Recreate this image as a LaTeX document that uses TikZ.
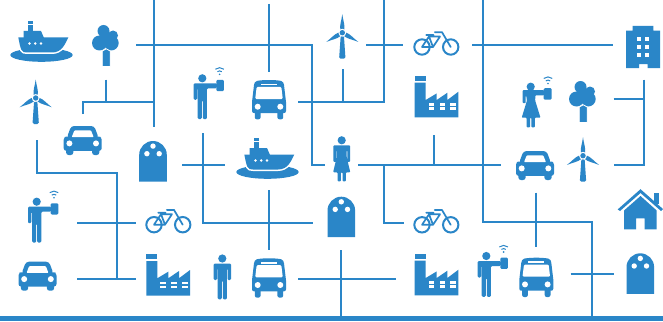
\documentclass[tikz,border=0pt]{standalone}
\definecolor{netblue}{HTML}{2A86C8}
\tikzset{
  wire/.style={draw=netblue,line width=2pt},
  ink/.style={fill=netblue,draw=none},
  cut/.style={fill=white,draw=none},
  ring/.style={draw=netblue,fill=none,line width=2pt},
  wifi/.style={draw=netblue,line width=1pt},
  icship/.pic={
    \fill[netblue] (41.5,55) ellipse [x radius=31.2,y radius=6.8];
    \draw[white,line width=3pt,line join=round] (18.3,37.5)
      .. controls (19.5,43) and (20,47) .. (21.5,50)
      .. controls (22.5,52) and (24,52.5) .. (27,52.5) -- (52,52.5)
      .. controls (62,52.5) and (65,44) .. (68.3,37.5);
    \path[ink] (18.3,37.5)--(68.3,37.5)
      .. controls (65,44) and (62,52.5) .. (52,52.5) -- (27,52.5)
      .. controls (24,52.5) and (22.5,52) .. (21.5,50)
      .. controls (20,47) and (19.5,43) .. (18.3,37.5) -- cycle;
    \path[ink] (23.5,38)--(23.5,31)--(41,31)--(44,38)--cycle;
    \path[ink] (27.5,25.3) rectangle (33,31);
    \path[ink] (27.5,21) rectangle (33,24);
    \foreach \px in {29.5,35.2,41} {\path[cut] (\px,43.5) circle [radius=1.4];}
  },
  ictree/.pic={
    \path[ink] (103.5,31) circle [radius=6];
    \path[ink] (113,35.5) circle [radius=5];
    \path[ink] (99.5,43) circle [radius=7.5];
    \path[ink] (111.2,43) circle [radius=7.5];
    \path[ink] (105,40) circle [radius=7];
    \filldraw[fill=netblue,draw=white,line width=.8pt] (102.3,66.4)--(102.3,51)--(106.2,48.8)--(110.2,51)--(110.2,66.4)--cycle;
  },
  icturbine/.pic={
    \foreach \ang in {0,120,240} {
      \path[ink,rotate=\ang] (0,-18.5) .. controls (-.8,-12) and (-2.8,-8) .. (-2,-3)
        -- (2,-3) .. controls (2.8,-8) and (.8,-12) .. (0,-18.5);
    }
    \path[ink,rounded corners=1.5pt] (-1.6,3)--(1.6,3)--(3.2,26)--(-3.2,26)--cycle;
    \path[cut] (0,0) circle [radius=3.9];
    \path[ink] (0,0) circle [radius=2.7];
  },
  icman/.pic={
    \path[ink] (0,0) circle [radius=4.1];
    \path[ink,rounded corners=1.2pt] (5,5)--(-8.7,5)--(-8.7,21.5)--(-5.3,21.5)--(-5.3,10)--(-4.6,10)
      --(-4.6,40.8)--(-.5,40.8)--(-.5,22)--(.5,22)--(.5,40.8)--(4.6,40.8)--(4.6,10)--(5.2,10)
      --(5.2,21.5)--(8.7,21.5)--(8.7,5)--cycle;
  },
  icmandevice/.pic={
    \path[ink] (0,0) circle [radius=4.1];
    \path[ink,rounded corners=1.2pt] (14.5,5)--(-8.7,5)--(-8.7,21.5)--(-5.3,21.5)--(-5.3,10)--(-4.6,10)
      --(-4.6,40.8)--(-.5,40.8)--(-.5,22)--(.5,22)--(.5,40.8)--(4.6,40.8)--(4.6,10)--(14.5,10)--cycle;
    \path[ink,rounded corners=1.2pt] (14,1.6) rectangle (21.6,12.8);
    \path[ink] (17.3,-4) circle [radius=.9];
    \draw[wifi] (17.3,-4) ++(-130:3.4) arc [start angle=-130,end angle=-50,radius=3.4];
    \draw[wifi] (17.3,-4) ++(-130:6.6) arc [start angle=-130,end angle=-50,radius=6.6];
  },
  icwomandevice/.pic={
    \path[ink] (0,0) circle [radius=4.1];
    \path[ink,rounded corners=.8pt] (13.5,3.5)--(-8,3.5)--(-8,16.5)--(-5,16.5)--(-5,9)--(-4.4,9)--(-3.8,14)
      --(-9,31)--(-4.2,31)--(-4.2,40.6)--(-.7,40.6)--(-.7,31)--(.7,31)--(.7,40.6)--(4.2,40.6)--(4.2,31)
      --(9.8,31)--(4.5,14)--(4.6,8.6)--(13.5,8.6)--cycle;
    \path[ink,rounded corners=1.2pt] (13,1.4) rectangle (21,13);
    \path[ink] (17.3,-3.2) circle [radius=.9];
    \draw[wifi] (17.3,-3.2) ++(-130:3.4) arc [start angle=-130,end angle=-50,radius=3.4];
    \draw[wifi] (17.3,-3.2) ++(-130:6.6) arc [start angle=-130,end angle=-50,radius=6.6];
  },
  icwoman/.pic={
    \path[ink] (0,0) circle [radius=4.1];
    \path[ink,rounded corners=.9pt] (-8.4,5)--(8.4,5)--(8.4,21.5)--(5.6,21.5)--(5.6,10)--(5,10)--(5,17)
      --(8.6,32)--(4.2,32)--(4.2,41)--(.8,41)--(.8,32)--(-.8,32)--(-.8,41)--(-4.2,41)--(-4.2,32)
      --(-8.6,32)--(-5,17)--(-5,10)--(-5.6,10)--(-5.6,21.5)--(-8.4,21.5)--cycle;
  },
  icbus/.pic={
    \path[ink] (-12,.9) .. controls (-6,-.3) and (6,-.3) .. (12,.9)
      .. controls (14,1.5) and (14.8,3) .. (15,5) -- (17,22) -- (17,31)
      .. controls (17,32.5) and (16,33) .. (15,33) -- (-15,33)
      .. controls (-16,33) and (-17,32.5) .. (-17,31) -- (-17,22) -- (-15,5)
      .. controls (-14.8,3) and (-14,1.5) .. (-12,.9) -- cycle;
    \path[ink,rounded corners=2pt] (-14.2,30) rectangle (-8.4,39.3);
    \path[ink,rounded corners=2pt] (8.4,30) rectangle (14.2,39.3);
    \path[cut,rounded corners=1.2pt] (-12.3,6.8)--(12.3,6.8)--(13.8,19)--(-13.8,19)--cycle;
    \path[cut] (-8,3.7) rectangle (8,5.2);
    \path[cut] (-11.3,26.7) circle [radius=3];
    \path[cut] (11.3,26.7) circle [radius=3];
  },
  iccar/.pic={
    \path[ink,rounded corners=3pt] (-11.5,0)--(11.5,0)--(16,12)--(-16,12)--cycle;
    \path[ink,rounded corners=2.5pt] (-19,11.3)--(-16,10.5)--(16,10.5)--(19,11.3)--(19,24.8)--(-19,24.8)--cycle;
    \path[ink,rounded corners=2.5pt] (-16.6,20) rectangle (-9.4,29);
    \path[ink,rounded corners=2.5pt] (9.4,20) rectangle (16.6,29);
    \path[cut,rounded corners=.8pt] (-8.3,4.4)--(8.3,4.4)--(11,11.2)--(-11,11.2)--cycle;
    \path[cut] (-13.3,17.4) circle [radius=3];
    \path[cut] (13.3,17.4) circle [radius=3];
  },
  icdome/.pic={
    \path[ink] (-13.8,40.5)--(-13.8,13.8) arc [start angle=180,end angle=360,radius=13.8]--(13.8,40.5)--cycle;
    \path[cut] (0,5.1) circle [radius=2.7];
    \path[cut] (-6.1,12.7) circle [radius=2.7];
    \path[cut] (6.2,12.7) circle [radius=2.7];
  },
  icbike/.pic={
    \draw[ring] (0,0) circle [radius=7.7];
    \draw[ring] (28.7,0) circle [radius=7.7];
    \draw[netblue,line width=1.7pt,line join=round,line cap=round]
      (0,0)--(7,-10.5)--(18,-10.5)--(11,0)--cycle
      (7,-10.5)--(11,0)
      (4.2,-12)--(11.5,-12)
      (12.8,-14.8)--(20,-14.8)--(28.7,0);
  },
  icfactory/.pic={
    \path[ink] (0,0) rectangle (11,5);
    \path[ink] (0,7)--(11,7)--(11,24.3)--(22,17.7)--(22,24.3)--(32.7,17)--(32.7,24.3)--(43.7,16)--(43.7,41.7)--(0,41.7)--cycle;
    \foreach \wa/\wb in {14/19.7,25/30.7,35.7/41.3} {
      \path[cut] (\wa,27.7) rectangle (\wb,30.3);
      \path[cut] (\wa,31.6) rectangle (\wb,34.2);
    }
  },
  icbuilding/.pic={
    \path[ink] (626,30.7)--(632.7,30.7)--(632.7,26)--(653.3,26)--(653.3,30.7)--(660,30.7)--(660,68)
      --(647.5,68)--(647.5,64)--(639,64)--(639,68)--(626,68)--cycle;
    \foreach \ry in {36.7,45,53.3} {
      \path[cut] (637,\ry) rectangle (641,\ry+4);
      \path[cut] (645.3,\ry) rectangle (649.3,\ry+4);
    }
  },
  ichouse/.pic={
    \path[ink] (654,193.3) rectangle (659,204);
    \path[cut] (640.5,189.5)--(664,211)--(617,211)--cycle;
    \path[ink] (640.5,189.2)--(663,209)--(661,211)--(640.5,193)--(620,211)--(617.7,209.4)--cycle;
    \path[ink] (640.5,196)--(656.7,210.5)--(656.7,229.3)--(644.7,229.3)--(644.7,218.3)--(636,218.3)--(636,229.3)--(624,229.3)--(624,210.5)--cycle;
  }
}
\begin{document}
\begin{tikzpicture}[x=1pt,y=-1pt]
\useasboundingbox (0,0) rectangle (663,321);
\fill[white] (0,0) rectangle (663,321);

% wiring
\path[wire] (154,0)--(154,127);
\path[wire] (136,45)--(312,45)--(312,165)--(325,165);
\path[wire] (106,79.5)--(106,102);
\path[wire] (82.5,114)--(82.5,102)--(154,102);
\path[wire] (37,140)--(37,173)--(116.5,173)--(116.5,279);
\path[wire] (77,223)--(136,223);
\path[wire] (77,279)--(136,279);
\path[wire] (182,165)--(225,165);
\path[wire] (202.5,133)--(202.5,223)--(313,223);
\path[wire] (269,4)--(269,72);
\path[wire] (298,102)--(384,102)--(384,0);
\path[wire] (342.5,69)--(342.5,102);
\path[wire] (366,45.5)--(402.5,45.5);
\path[wire] (358,165)--(501,165);
\path[wire] (434,135)--(434,165);
\path[wire] (383.5,165)--(383.5,222.5)--(404,222.5);
\path[wire] (482.5,0)--(482.5,222)--(592,222)--(592,316);
\path[wire] (472,45)--(613,45);
\path[wire] (536,192.5)--(536,246.5);
\path[wire] (269,190)--(269,250);
\path[wire] (341,250)--(341,316);
\path[wire] (298,279)--(396,279);
\path[wire] (570.5,273.5)--(613.5,273.5);
\path[wire] (643.5,79.5)--(643.5,165)--(613.5,165);
\path[wire] (613.5,99)--(643.5,99);
\path[ink] (0,316) rectangle (663,321);

% icons
\pic at (0,0) {icship};
\pic at (226,117) {icship};
\pic at (0,0) {ictree};
\pic at (477,56) {ictree};
\pic at (35.7,98) {icturbine};
\pic at (342.3,32.7) {icturbine};
\pic at (583,155.7) {icturbine};
\pic at (36.7,201.7) {icmandevice};
\pic at (202.3,78.3) {icmandevice};
\pic at (486.3,256) {icmandevice};
\pic at (530.7,86.7) {icwomandevice};
\pic at (341.7,140.3) {icwoman};
\pic at (222.3,258.5) {icman};
\pic at (269,80) {icbus};
\pic at (269,258.3) {icbus};
\pic at (536.3,257.7) {icbus};
\pic at (82.7,126) {iccar};
\pic at (37.5,261.7) {iccar};
\pic at (535,151) {iccar};
\pic at (153,141) {icdome};
\pic at (341.3,196.7) {icdome};
\pic at (640.3,253.3) {icdome};
\pic at (154,224.7) {icbike};
\pic at (422,47) {icbike};
\pic at (422,224.8) {icbike};
\pic at (146.3,254) {icfactory};
\pic at (414.7,75.7) {icfactory};
\pic at (414.7,253.7) {icfactory};
\pic at (0,0) {icbuilding};
\pic at (0,0) {ichouse};
\end{tikzpicture}
\end{document}
